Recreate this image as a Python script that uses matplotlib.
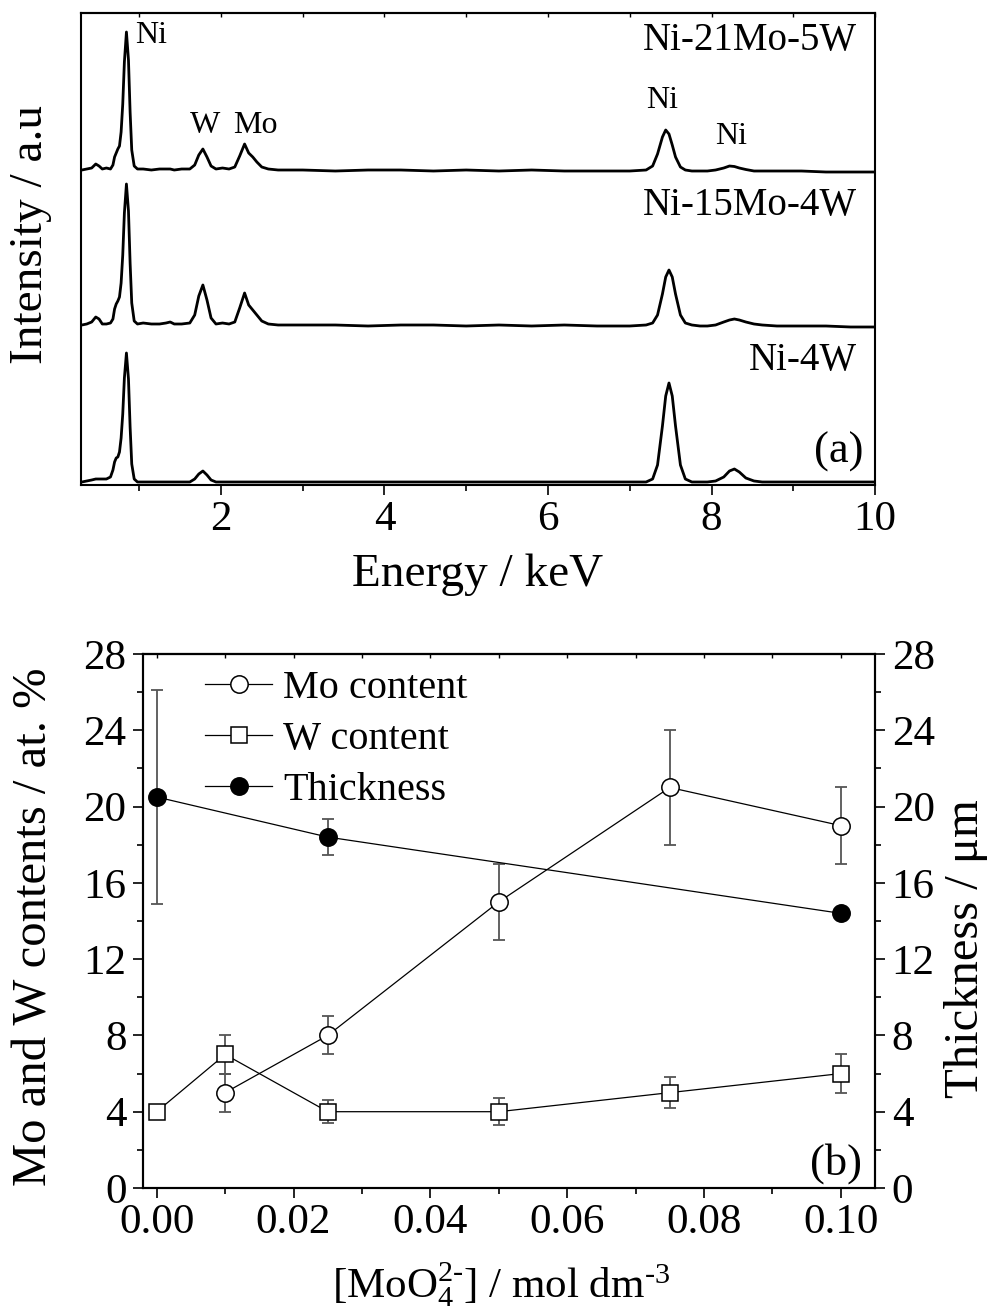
import numpy as np
import matplotlib
matplotlib.use("Agg")
import matplotlib.pyplot as plt
from matplotlib.ticker import MultipleLocator, FormatStrFormatter

plt.rcParams['font.family'] = 'Liberation Serif'
plt.rcParams['mathtext.fontset'] = 'custom'
plt.rcParams['mathtext.rm'] = 'Liberation Serif'
plt.rcParams['mathtext.it'] = 'Liberation Serif:italic'

# --- (a) EDS spectra (arbitrary units above each baseline) ---
energy = [0.30, 0.36, 0.42, 0.47, 0.51, 0.55, 0.60, 0.65, 0.68, 0.70,
          0.72, 0.74, 0.76, 0.78, 0.80, 0.82, 0.845, 0.87, 0.89, 0.91,
          0.94, 0.98, 1.05, 1.15, 1.25, 1.33, 1.38, 1.43, 1.52, 1.62,
          1.68, 1.73, 1.78, 1.83, 1.88, 1.94, 2.02, 2.10, 2.17, 2.23,
          2.29, 2.34, 2.39, 2.44, 2.50, 2.58, 2.70, 3.0, 3.4, 3.8,
          4.2, 4.6, 5.0, 5.4, 5.8, 6.2, 6.6, 7.0, 7.20, 7.28,
          7.34, 7.40, 7.44, 7.48, 7.52, 7.56, 7.62, 7.68, 7.76, 7.86,
          7.95, 8.05, 8.15, 8.22, 8.28, 8.34, 8.42, 8.52, 8.62, 8.8,
          9.1, 9.4, 9.7, 10.0]

spec_21mo = [0, 1, 2, 6, 4, 1, 2, 1, 5, 13,
             17, 21, 24, 38, 66, 108, 138, 110, 58, 20,
             4, 1, 1, 0, 1, 1, 1, 0, 1, 1,
             5, 15, 21, 13, 4, 1, 2, 1, 3, 14,
             26, 17, 13, 8, 3, 1, 0, 0, -1, 0,
             0, -1, 0, -1, 0, -1, -1, -1, 0, 4,
             16, 33, 40, 36, 25, 13, 3, 0, -1, -1,
             -1, 0, 2, 4, 3.5, 2, 0.5, -1, -1, -1,
             -1, -2, -2, -2]

spec_15mo = [0, 1, 3, 8, 6, 1, 1, 2, 6, 16,
             21, 24, 28, 42, 70, 112, 141, 114, 62, 22,
             4, 1, 2, 1, 1, 2, 3, 1, 1, 2,
             10, 29, 40, 25, 7, 1, 2, 1, 3, 17,
             32, 20, 15, 10, 4, 1, 0, 0, 0, -1,
             0, 0, -1, 0, -1, 0, -1, -1, 0, 2,
             10, 31, 48, 55, 48, 31, 10, 2, 0, -1,
             -1, 0, 3, 5, 6, 5, 3, 1, 0, -1,
             -1, -1, -2, -2]

spec_0mo = [0, 1, 2, 3, 3, 3, 3, 5, 12, 20,
            24, 25, 30, 44, 68, 104, 129, 103, 55, 18,
            3, 0, 0, 0, 0, 0, 0, 0, 0, 0,
            3, 8, 11, 7, 2, 0, 0, 0, 0, 0,
            0, 0, 0, 0, 0, 0, 0, 0, 0, 0,
            0, 0, 0, 0, 0, 0, 0, 0, 0, 3,
            17, 56, 86, 99, 86, 56, 17, 3, 0, 0,
            0, 1, 5, 11, 13, 10, 4, 1, 0, 0,
            0, 0, 0, 0]

spectra = [spec_21mo, spec_15mo, spec_0mo]
spec_names = ['Ni-21Mo-5W', 'Ni-15Mo-4W', 'Ni-4W']
spec_offsets = [315, 160, 3]

# --- (b) composition and thickness vs molybdate concentration ---
mo_x = [0.01, 0.025, 0.05, 0.075, 0.10]
mo_y = [5, 8, 15, 21, 19]
mo_err = [1, 1, 2, 3, 2]

w_x = [0.0, 0.01, 0.025, 0.05, 0.075, 0.10]
w_y = [4, 7, 4, 4, 5, 6]
w_err = [0, 1, 0.6, 0.7, 0.8, 1]

th_x = [0.0, 0.025, 0.10]
th_y = [20.5, 18.4, 14.4]
th_err = [5.6, 0.95, 0]

fig = plt.figure(figsize=(9.92, 13.14), dpi=100)

# ---------------- panel (a) ----------------
ax1 = fig.add_axes([0.0817, 0.6309, 0.8004, 0.3592])
for s, off in zip(spectra, spec_offsets):
    ax1.plot(energy, np.array(s) + off, color='k', lw=2.0, solid_joinstyle='round')

ax1.set_xlim(0.29, 10)
ax1.set_ylim(0, 472)
ax1.set_yticks([])
ax1.xaxis.set_major_locator(MultipleLocator(2))
ax1.xaxis.set_minor_locator(MultipleLocator(1))
ax1.tick_params(axis='x', which='major', direction='out', length=7, width=1.2,
                labelsize=31, pad=4)
ax1.tick_params(axis='x', which='minor', direction='out', length=4, width=1.2)
top1 = ax1.secondary_xaxis('top')
top1.xaxis.set_major_locator(MultipleLocator(2))
top1.xaxis.set_minor_locator(MultipleLocator(1))
top1.tick_params(which='both', direction='in', length=3, width=1.0, labeltop=False)
for sp in list(ax1.spines.values()) + list(top1.spines.values()):
    sp.set_linewidth(1.5)

ax1.set_xlabel('Energy / keV', fontsize=34)
ax1.xaxis.set_label_coords(0.499, -0.145)
ax1.set_ylabel('Intensity / a.u', fontsize=34)
ax1.yaxis.set_label_coords(-0.036, 0.53)

ax1.text(0.95, 442, 'Ni', fontsize=23, ha='left', va='baseline')
ax1.text(1.81, 352, 'W', fontsize=23, ha='center', va='baseline')
ax1.text(2.42, 352, 'Mo', fontsize=23, ha='center', va='baseline')
ax1.text(7.40, 377, 'Ni', fontsize=23, ha='center', va='baseline')
ax1.text(8.24, 341, 'Ni', fontsize=23, ha='center', va='baseline')
for name, ybase in zip(spec_names, [435, 270, 115]):
    ax1.text(0.977, ybase, name, transform=ax1.get_yaxis_transform(),
             fontsize=28, ha='right', va='baseline')
ax1.text(0.985, 22, '(a)', transform=ax1.get_yaxis_transform(),
         fontsize=32, ha='right', va='baseline')

# ---------------- panel (b) ----------------
ax = fig.add_axes([0.1442, 0.0959, 0.7379, 0.4064])
ax2 = ax.twinx()

eb_kw = dict(fmt='none', ecolor='#555555', elinewidth=1.3, capsize=4.3, capthick=1.3)
ax.errorbar(mo_x, mo_y, yerr=mo_err, zorder=2, **eb_kw)
ax.errorbar(w_x, w_y, yerr=w_err, zorder=2, **eb_kw)
ax2.errorbar(th_x, th_y, yerr=th_err, zorder=2, **eb_kw)

h_mo, = ax.plot(mo_x, mo_y, '-', color='k', lw=0.9, marker='o', ms=12.5,
                mfc='white', mec='k', mew=1.1, zorder=3, label='Mo content')
h_w, = ax.plot(w_x, w_y, '-', color='k', lw=0.9, marker='s', ms=11,
               mfc='white', mec='k', mew=1.1, zorder=3, label='W content')
h_th, = ax2.plot(th_x, th_y, '-', color='k', lw=0.9, marker='o', ms=12.5,
                 mfc='k', mec='k', mew=1.1, zorder=3, label='Thickness')

ax.set_xlim(-0.002, 0.105)
for a in (ax, ax2):
    a.set_ylim(0, 28)
    a.yaxis.set_major_locator(MultipleLocator(4))
    a.yaxis.set_minor_locator(MultipleLocator(2))
    a.tick_params(axis='y', which='major', direction='out', length=7, width=1.2,
                  labelsize=31, pad=5)
    a.tick_params(axis='y', which='minor', direction='out', length=4, width=1.2)
    for sp in a.spines.values():
        sp.set_linewidth(1.5)
ax.xaxis.set_major_locator(MultipleLocator(0.02))
ax.xaxis.set_minor_locator(MultipleLocator(0.01))
ax.xaxis.set_major_formatter(FormatStrFormatter('%.2f'))
ax.tick_params(axis='x', which='major', direction='out', length=7, width=1.2,
               labelsize=31, pad=4)
ax.tick_params(axis='x', which='minor', direction='out', length=4, width=1.2)
top2 = ax.secondary_xaxis('top')
top2.xaxis.set_major_locator(MultipleLocator(0.02))
top2.xaxis.set_minor_locator(MultipleLocator(0.01))
top2.tick_params(which='both', direction='in', length=3, width=1.0, labeltop=False)
for sp in top2.spines.values():
    sp.set_linewidth(1.5)

ax.set_xlabel(r'[MoO$_4^{2\text{-}}$] / mol dm$^{\text{-}3}$', fontsize=31)
ax.xaxis.set_label_coords(0.489, -0.135)
ax.set_ylabel('Mo and W contents / at. %', fontsize=35)
ax.yaxis.set_label_coords(-0.118, 0.489)
ax2.set_ylabel('Thickness / μm', fontsize=35)
ax2.yaxis.set_label_coords(1.094, 0.449)

ax.legend(handles=[h_mo, h_w, h_th], loc='upper left', bbox_to_anchor=(0.0847, 0.97),
          frameon=False, fontsize=29, handlelength=1.67, handletextpad=0.27,
          labelspacing=0.34, borderpad=0, borderaxespad=0)
ax.text(0.982, 0.025, '(b)', transform=ax.transAxes, fontsize=32,
        ha='right', va='baseline')

fig.savefig('out.png', dpi=100)
